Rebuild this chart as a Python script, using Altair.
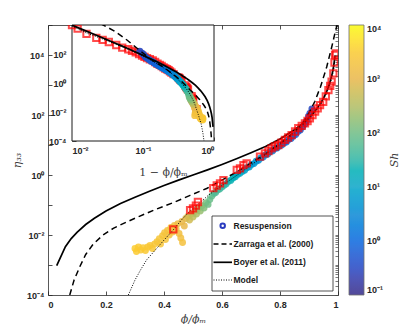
import altair as alt
import pandas as pd

# ---------------- data ----------------
# Boyer et al. (2011) curve (x = phi/phi_m, log10 eta33)
boyer_x = [0.03, 0.06, 0.08, 0.10, 0.13, 0.16, 0.20, 0.25, 0.30, 0.35, 0.40, 0.45, 0.50,
           0.55, 0.60, 0.65, 0.70, 0.75, 0.80, 0.85, 0.88, 0.90, 0.92, 0.94, 0.95, 0.96,
           0.97, 0.98, 0.985, 0.99]
boyer_log_eta = [-3.02, -2.39, -2.12, -1.91, -1.65, -1.44, -1.20, -0.95, -0.74, -0.54, -0.35,
                 -0.17, 0.0, 0.17, 0.35, 0.54, 0.74, 0.95, 1.20, 1.51, 1.73, 1.91, 2.12, 2.39,
                 2.56, 2.76, 3.02, 3.38, 3.63, 3.99]

# Zarraga et al. (2000) curve
zarraga_x = [0.075, 0.09, 0.11, 0.13, 0.156, 0.19, 0.225, 0.27, 0.317, 0.37, 0.432, 0.49,
             0.547, 0.60, 0.65, 0.70, 0.75, 0.80, 0.857, 0.88, 0.903, 0.92, 0.94, 0.961,
             0.978, 0.99, 0.997]
zarraga_log_eta = [-4.0, -3.5, -3.05, -2.65, -2.3, -2.0, -1.78, -1.57, -1.37, -1.15, -0.92,
                   -0.68, -0.45, -0.17, 0.1, 0.4, 0.7, 1.05, 1.5, 1.75, 2.12, 2.45, 2.95, 3.6,
                   4.25, 4.75, 5.0]

# Model curve
model_x = [0.277, 0.30, 0.32, 0.34, 0.37, 0.40, 0.432, 0.46, 0.49, 0.52, 0.55, 0.58, 0.62,
           0.66, 0.70, 0.74, 0.78, 0.82, 0.86, 0.89, 0.92, 0.94, 0.96, 0.975, 0.985, 0.99]
model_log_eta = [-4.0, -3.5, -3.15, -2.83, -2.5, -2.17, -1.83, -1.5, -1.2, -0.95, -0.70,
                 -0.48, -0.22, 0.05, 0.33, 0.6, 0.88, 1.15, 1.48, 1.76, 2.08, 2.35, 2.7,
                 3.1, 3.5, 3.95]

# red open squares
sq_x = [0.432, 0.49, 0.50, 0.51, 0.517, 0.570, 0.582, 0.593, 0.605, 0.651, 0.662, 0.674,
        0.685, 0.731, 0.748, 0.760, 0.771, 0.782, 0.794, 0.805, 0.817, 0.828, 0.840, 0.852,
        0.863, 0.875, 0.886, 0.895, 0.903, 0.912, 0.921, 0.930, 0.938, 0.949, 0.958, 0.967,
        0.973, 0.978, 0.984, 0.988, 0.99, 0.993]
sq_log_eta = [-1.81, -1.17, -1.11, -1.02, -0.9, -0.44, -0.35, -0.28, -0.17, 0.17, 0.22, 0.33,
              0.39, 0.61, 0.72, 0.80, 0.89, 0.95, 1.0, 1.08, 1.17, 1.25, 1.33, 1.45, 1.56,
              1.64, 1.72, 1.8, 1.89, 2.0, 2.11, 2.22, 2.33, 2.44, 2.62, 2.83, 2.97, 3.11,
              3.39, 3.75, 4.0, 4.05]

# Resuspension points (x, log10 eta33, log10 Sh)
pt_x = [0.300, 0.305, 0.312, 0.320, 0.328, 0.336, 0.344, 0.352, 0.360, 0.368, 0.376, 0.384,
        0.388, 0.395, 0.402, 0.405, 0.412, 0.418, 0.424, 0.430, 0.436, 0.442, 0.448, 0.452,
        0.458, 0.464, 0.462, 0.470,
        0.475, 0.482, 0.488, 0.494, 0.500, 0.506, 0.512, 0.518, 0.525, 0.532, 0.538, 0.545,
        0.552, 0.558,
        0.565, 0.572, 0.578, 0.585, 0.592, 0.600, 0.607, 0.614, 0.622, 0.630, 0.638, 0.646,
        0.654, 0.662,
        0.670, 0.678, 0.686, 0.694, 0.702, 0.710, 0.718, 0.726, 0.734, 0.742, 0.750, 0.758,
        0.766, 0.774,
        0.782, 0.790, 0.798, 0.806, 0.814, 0.822, 0.830, 0.838, 0.846, 0.854, 0.862, 0.870,
        0.878, 0.886, 0.892, 0.898, 0.903, 0.910]
pt_log_eta = [-2.45, -2.55, -2.40, -2.50, -2.42, -2.52, -2.40, -2.35, -2.45, -2.30, -2.22,
              -2.12, -2.30, -2.02, -1.92, -2.15, -1.85, -2.00, -1.75, -1.90, -1.68, -1.80,
              -1.62, -1.95, -2.10, -2.25, -1.55, -1.70,
              -1.45, -1.38, -1.50, -1.30, -1.40, -1.22, -1.30, -1.12, -1.20, -1.02, -1.10,
              -0.92, -0.98, -0.82,
              -0.70, -0.62, -0.58, -0.50, -0.47, -0.40, -0.34, -0.30, -0.22, -0.18, -0.10,
              -0.06, 0.02, 0.06,
              0.12, 0.16, 0.24, 0.27, 0.35, 0.38, 0.46, 0.49, 0.57, 0.60, 0.67, 0.70, 0.78,
              0.80,
              0.88, 0.90, 0.97, 1.00, 1.07, 1.10, 1.18, 1.22, 1.30, 1.35, 1.45, 1.50, 1.60,
              1.70, 1.80, 1.95, 2.05, 2.20]
pt_log_sh = [3.52, 3.50, 3.50, 3.48, 3.47, 3.45, 3.45, 3.42, 3.42, 3.40, 3.38, 3.36, 3.38,
             3.34, 3.32, 3.35, 3.30, 3.30, 3.26, 3.26, 3.22, 3.20, 3.15, 3.20, 3.25, 3.28,
             3.05, 3.00,
             2.95, 2.85, 2.80, 2.70, 2.60, 2.50, 2.45, 2.38, 2.30, 2.22, 2.15, 2.08, 2.00,
             1.95,
             1.88, 1.82, 1.75, 1.70, 1.64, 1.58, 1.52, 1.46, 1.40, 1.34, 1.28, 1.22, 1.16,
             1.10,
             1.04, 0.98, 0.92, 0.86, 0.80, 0.74, 0.68, 0.62, 0.57, 0.52, 0.47, 0.42, 0.38,
             0.34,
             0.30, 0.26, 0.22, 0.18, 0.14, 0.10, 0.06, 0.02, -0.02, -0.06, -0.10, -0.14,
             -0.18, -0.24, -0.30, -0.38, -0.45, -0.52]

legend_labels = ["Resuspension", "Zarraga et al. (2000)", "Boyer et al. (2011)", "Model"]
colorbar_title = "Sh"

# colour bar (parula-like) stops, one per half decade of Sh
cb_log_stops = [-1, -0.5, 0, 0.5, 1, 1.5, 2, 2.5, 3, 3.5, 4]
cb_colors = ["#352a87", "#2446c4", "#0a68de", "#1189d4", "#0ba5c8", "#2eb6a6",
             "#6fbd85", "#b2bd63", "#e9b74a", "#fbca30", "#f9fb0e"]

# ---------------- tables ----------------
def curve(xs, logs):
    return pd.DataFrame({"x": xs, "eta": [10 ** v for v in logs]})

boyer = curve(boyer_x, boyer_log_eta)
zarraga = curve(zarraga_x, zarraga_log_eta)
model = curve(model_x, model_log_eta)
squares = curve(sq_x, sq_log_eta)
points = pd.DataFrame({"x": pt_x, "eta": [10 ** v for v in pt_log_eta],
                       "sh": [10 ** v for v in pt_log_sh]})
one = pd.DataFrame({"k": [0]})

# ---------------- styling helpers ----------------
LBL_FONT = "Liberation Sans"
SERIF = "DejaVu Serif"
pow_expr = ("'10' + (datum.value < 1 ? '⁻' : '') + "
            "['⁰','¹','²','³','⁴','⁵','⁶','⁷','⁸','⁹'][abs(round(log(datum.value) / LN10))]")

common_axis = dict(labelFont=LBL_FONT, labelFontSize=9, labelFontWeight="bold",
                   labelColor="#262626", tickColor="#262626", tickWidth=0.8, tickSize=4,
                   domain=False, grid=False, titleFont=SERIF, titleFontWeight="normal",
                   titleColor="#404040", titleFontSize=11)

decades = [10.0 ** k for k in range(-4, 6)]
minor_log = [m * 10.0 ** k for k in range(-4, 5) for m in range(1, 10)] + [1e5]

main_x_axis = alt.Axis(values=[0, 0.2, 0.4, 0.6, 0.8, 1], format="~g", orient="bottom",
                       offset=-4, labelPadding=5, title="ϕ/ϕₘ", titlePadding=4,
                       titleFontStyle="italic", **common_axis)
main_y_axis = alt.Axis(values=decades, orient="left", offset=-4,
                       labelExpr="(round(log(datum.value)/LN10) % 2 == 0) ? (" + pow_expr + ") : ''",
                       labelPadding=4, title="η₃₃", titlePadding=4, titleFontStyle="italic",
                       **common_axis)
inset_x_axis = alt.Axis(values=[0.01, 0.1, 1], orient="bottom", offset=-158,
                        labelExpr=pow_expr, labelPadding=5, title="1 − ϕ/ϕₘ",
                        titleX=115, titleY=35, titleBaseline="middle", titleAlign="center",
                        titleAnchor="middle", titleFontStyle="normal", **common_axis)
inset_y_axis = alt.Axis(values=[10.0 ** k for k in range(-4, 5)], orient="left", offset=-28,
                        labelExpr="(round(log(datum.value)/LN10) % 2 == 0 && datum.value < 1000) ? ("
                                  + pow_expr + ") : ''",
                        labelPadding=6, title=None, **common_axis)
mirror_x_axis = alt.Axis(values=[0, 0.2, 0.4, 0.6, 0.8, 1], orient="top", offset=-4,
                         labels=False, title=None, tickColor="#262626", tickWidth=0.8,
                         tickSize=4, domain=False, grid=False)
mirror_y_axis = alt.Axis(values=minor_log, orient="right", offset=-3, labels=False,
                         title=None, tickColor="#404040", tickWidth=0.7, tickSize=3,
                         domain=False, grid=False)

mx = alt.X("x:Q", scale=alt.Scale(domain=[0, 1], nice=False, zero=False), axis=main_x_axis)
my = alt.Y("eta:Q", scale=alt.Scale(type="log", domain=[1e-4, 1e5], nice=False),
           axis=main_y_axis)
ix = alt.X("u:Q", scale=alt.Scale(type="log", domain=[0.01, 1], range=[24, 166], nice=False),
           axis=inset_x_axis)
iy = alt.Y("eta:Q", scale=alt.Scale(type="log", domain=[1e-4, 1e4], range=[116, 0],
                                    nice=False), axis=inset_y_axis)
rx = alt.X("x:Q", scale=alt.Scale(domain=[0, 1], nice=False, zero=False), axis=mirror_x_axis)
ry = alt.Y("eta:Q", scale=alt.Scale(type="log", domain=[1e-4, 1e5], nice=False),
           axis=mirror_y_axis)

color_legend = alt.Legend(orient="none", legendX=301, legendY=0, direction="vertical",
                          gradientLength=270, gradientThickness=15,
                          values=[0.1, 1, 10, 100, 1000, 10000], labelExpr=pow_expr,
                          labelFont=LBL_FONT, labelFontSize=9, labelFontWeight="bold",
                          labelColor="#262626", labelOffset=3, title=None,
                          gradientStrokeColor="#555", gradientStrokeWidth=0.8)
color = alt.Color("sh:Q", scale=alt.Scale(type="log", domain=[10 ** v for v in cb_log_stops],
                                          range=cb_colors), legend=color_legend)

PT_SIZE = 48
SQ = dict(shape="square", filled=False, color="#ff0000", strokeWidth=2, size=40, clip=True)

# ---------------- main plot ----------------
m_points = alt.Chart(points).mark_circle(size=PT_SIZE, opacity=0.85, clip=True).encode(
    x=mx, y=my, color=color)
m_boyer = alt.Chart(boyer).mark_line(color="black", strokeWidth=1.7, clip=True).encode(x=mx, y=my)
m_zarr = alt.Chart(zarraga).mark_line(color="black", strokeWidth=1.5, strokeDash=[6, 4],
                                      clip=True).encode(x=mx, y=my)
m_model = alt.Chart(model).mark_line(color="black", strokeWidth=1, strokeDash=[1, 1.5],
                                     clip=True).encode(x=mx, y=my)
m_sq = alt.Chart(squares).mark_point(**SQ).encode(x=mx, y=my)
main = alt.layer(m_points, m_boyer, m_zarr, m_model, m_sq)

# mirrored (top / right) ticks of the main axes, invisible marks
mirror = alt.Chart(boyer).mark_point(opacity=0, size=1).encode(x=rx, y=ry)

# ---------------- inset ----------------
def inset_layer(df):
    return alt.Chart(df).transform_calculate(u="1 - datum.x").transform_filter(
        "datum.u >= 0.0099")

box_df = pd.DataFrame({"u": [0.01], "u2": [1.0], "eta": [1e-4], "eta2": [1e4]})
i_box = alt.Chart(box_df).mark_rect(fill="white", stroke="#1a1a1a", strokeWidth=1).encode(
    x=ix, x2="u2:Q", y=iy, y2="eta2:Q")
i_sq = inset_layer(squares).mark_point(**SQ).encode(x=ix, y=iy)
i_points = inset_layer(points).mark_circle(size=PT_SIZE, opacity=0.9, clip=True).encode(
    x=ix, y=iy, color=color)
i_boyer = inset_layer(boyer).mark_line(color="black", strokeWidth=1.7, clip=True).encode(x=ix, y=iy)
i_zarr = inset_layer(zarraga).mark_line(color="black", strokeWidth=1.5, strokeDash=[6, 4],
                                        clip=True).encode(x=ix, y=iy)
i_model = inset_layer(model).mark_line(color="black", strokeWidth=1, strokeDash=[1, 1.5],
                                       clip=True).encode(x=ix, y=iy)
inset = alt.layer(i_box, i_sq, i_points, i_boyer, i_zarr, i_model)

# ---------------- hand-drawn legend & colour-bar title ----------------
lg_rows = [200.7, 219, 237.3, 255]
lg = [alt.Chart(one).mark_rect(fill="white", stroke="#262626", strokeWidth=0.8).encode(
          x=alt.value(164), x2=alt.value(285), y=alt.value(191), y2=alt.value(266)),
      alt.Chart(one).mark_point(shape="circle", filled=False, color="#2a3bbf", strokeWidth=2,
                                size=20, opacity=1).encode(x=alt.value(174.7), y=alt.value(lg_rows[0])),
      alt.Chart(one).mark_rule(color="black", strokeWidth=1.5, strokeDash=[5, 3]).encode(
          x=alt.value(165.5), x2=alt.value(184), y=alt.value(lg_rows[1])),
      alt.Chart(one).mark_rule(color="black", strokeWidth=1.7).encode(
          x=alt.value(165.5), x2=alt.value(184), y=alt.value(lg_rows[2])),
      alt.Chart(one).mark_rule(color="black", strokeWidth=1, strokeDash=[1, 1.5]).encode(
          x=alt.value(165.5), x2=alt.value(184), y=alt.value(lg_rows[3]))]
for lab, yy in zip(legend_labels, lg_rows):
    lg.append(alt.Chart(one).mark_text(align="left", baseline="middle", font=LBL_FONT,
                                       fontSize=8.5, fontWeight="bold", color="#1a1a1a").encode(
        x=alt.value(185.5), y=alt.value(yy), text=alt.value(lab)))
lg.append(alt.Chart(one).mark_text(align="center", baseline="middle", font=SERIF,
                                   fontSize=11, fontStyle="italic", color="#404040",
                                   angle=270).encode(
    x=alt.value(347), y=alt.value(135), text=alt.value(colorbar_title)))
legend_layer = alt.layer(*lg)

chart = alt.layer(mirror, main, inset, legend_layer).resolve_scale(
    x="independent", y="independent"
).properties(
    width=290, height=270,
    padding={"left": 40, "top": 17, "right": 69, "bottom": 29},
    autosize=alt.AutoSizeParams(type="none"),
).configure_view(stroke="#595959", strokeWidth=1)

chart.save("out.html", embed_options={"renderer": "svg", "actions": False})
